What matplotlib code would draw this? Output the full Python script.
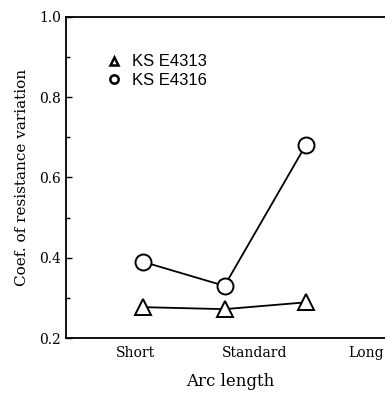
import matplotlib
matplotlib.use("Agg")
import matplotlib.pyplot as plt
from matplotlib.lines import Line2D
from matplotlib.ticker import MultipleLocator

# data
arc_lengths = ["Short", "Standard", "Long"]
ks_e4313 = [0.277, 0.272, 0.289]
ks_e4316 = [0.390, 0.330, 0.682]
y_ticks = [0.2, 0.4, 0.6, 0.8, 1.0]

serif = "DejaVu Serif"

fig = plt.figure(figsize=(3.85, 3.94), dpi=100)
ax = fig.add_axes([0.171, 0.142, 0.855, 0.815])

x = [1, 2, 3]
ax.plot(x, ks_e4316, color="black", lw=1.3, marker="o", ms=11.5,
        mfc="white", mec="black", mew=1.4, clip_on=False)
ax.plot(x, ks_e4313, color="black", lw=1.3, marker="^", ms=11,
        mfc="white", mec="black", mew=1.4, clip_on=False)

ax.set_xlim(0.055, 4.09)
ax.set_ylim(0.2, 1.0)

# category labels sit offset from the markers in the original
ax.set_xticks([0.914, 2.37, 3.74])
ax.set_xticklabels(arc_lengths, family=serif, fontsize=10)
ax.tick_params(axis="x", length=0, pad=6)

ax.set_yticks(y_ticks)
ax.set_yticklabels([f"{v:.1f}" for v in y_ticks], family=serif, fontsize=10)
ax.yaxis.set_minor_locator(MultipleLocator(0.1))
ax.tick_params(axis="y", which="major", direction="in", length=4, width=1)
ax.tick_params(axis="y", which="minor", direction="in", length=3, width=1)

ax.spines["right"].set_visible(False)
for s in ["left", "bottom", "top"]:
    ax.spines[s].set_linewidth(1.3)

ax.set_ylabel("Coef. of resistance variation", family=serif, fontsize=11, labelpad=7)
ax.set_xlabel("Arc length", family=serif, fontsize=12, labelpad=9)

handles = [
    Line2D([], [], ls="none", marker="^", ms=6, mfc="white", mec="black", mew=1.8),
    Line2D([], [], ls="none", marker="o", ms=6, mfc="white", mec="black", mew=1.8),
]
leg = ax.legend(handles, ["KS E4313", "KS E4316"], loc="upper left",
                bbox_to_anchor=(0.08, 0.93), frameon=False, handlelength=0.8,
                handletextpad=0.7, labelspacing=0.2,
                prop={"family": "Liberation Sans", "size": 12})

fig.savefig("out.png", dpi=100)
